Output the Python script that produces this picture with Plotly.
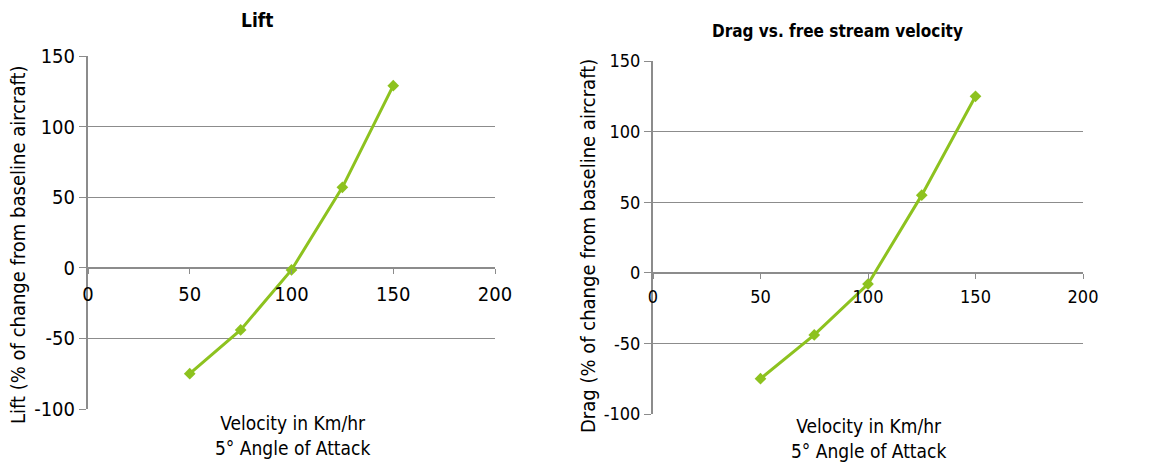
import plotly.graph_objects as go

velocity = [50, 75, 100, 125, 150]
lift_pct = [-75, -44, -1.5, 57, 129]
drag_pct = [-75, -44, -8, 55, 125]

x_ticks = [0, 50, 100, 150, 200]
x_tick_labels = ["0", "50", "100", "150", "200"]
y_ticks = [-100, -50, 0, 50, 100, 150]
y_tick_labels = ["-100", "-50", "0", "50", "100", "150"]

W, H = 1163, 463
FONT = "Liberation Sans Narrow, DejaVu Sans Condensed, Liberation Sans, sans-serif"
GREEN = "#8DC21F"
GRID = "#8C8C8C"

def px_x(p):
    return p / W

def px_y(p):
    return 1 - p / H

# plot areas (pixels)
L = dict(x0=88, x1=495, y0=56, y1=409)
R = dict(x0=653, x1=1083, y0=61, y1=414)

def ydom(a):
    return [px_y(a["y1"]), px_y(a["y0"])]

def xdom(a):
    return [px_x(a["x0"]), px_x(a["x1"])]

def zero_pos(a):
    d = ydom(a)
    return d[0] + (0 - (-100)) / 250 * (d[1] - d[0])

fig = go.Figure()
fig.add_trace(go.Scatter(x=velocity, y=lift_pct, mode="lines+markers",
                         line=dict(color=GREEN, width=3),
                         marker=dict(symbol="diamond", size=9, color=GREEN),
                         xaxis="x", yaxis="y", showlegend=False))
fig.add_trace(go.Scatter(x=velocity, y=drag_pct, mode="lines+markers",
                         line=dict(color=GREEN, width=3),
                         marker=dict(symbol="diamond", size=9, color=GREEN),
                         xaxis="x2", yaxis="y2", showlegend=False))

def xaxis_cfg(a, size):
    return dict(domain=xdom(a), range=[0, 200], tickvals=x_ticks, ticktext=x_tick_labels,
                anchor="free", position=zero_pos(a), automargin=False,
                showgrid=False, zeroline=False, showline=False,
                ticks="outside", ticklen=5, tickcolor=GRID, tickwidth=1,
                ticklabelstandoff=3,
                tickfont=dict(family=FONT, size=size, color="#000"),
                fixedrange=True)

def yaxis_cfg(a, xname, size):
    return dict(domain=ydom(a), range=[-100, 150], tickvals=y_ticks, ticktext=y_tick_labels,
                anchor=xname, automargin=False,
                showgrid=True, gridcolor=GRID, gridwidth=1,
                zeroline=True, zerolinecolor=GRID, zerolinewidth=2,
                showline=True, linecolor=GRID, linewidth=2,
                ticks="outside", ticklen=7, tickcolor=GRID, tickwidth=1,
                tickfont=dict(family=FONT, size=size, color="#000"),
                fixedrange=True)

fig.update_layout(
    width=W, height=H,
    margin=dict(l=0, r=0, t=0, b=0, autoexpand=False),
    paper_bgcolor="white", plot_bgcolor="white",
    xaxis=xaxis_cfg(L, 20),
    yaxis=yaxis_cfg(L, "x", 20),
    xaxis2=xaxis_cfg(R, 18),
    yaxis2=yaxis_cfg(R, "x2", 18),
)

ann = [
    dict(text="<b>Lift</b>", x=px_x(257), y=px_y(20), size=19),
    dict(text="<b>Drag vs. free stream velocity</b>", x=px_x(837), y=px_y(31), size=17),
    dict(text="Velocity in Km/hr<br>5° Angle of Attack", x=px_x(292), y=px_y(435), size=19),
    dict(text="Velocity in Km/hr<br>5° Angle of Attack", x=px_x(868), y=px_y(438), size=19),
]
for a in ann:
    fig.add_annotation(text=a["text"], x=a["x"], y=a["y"], xref="paper", yref="paper",
                       xanchor="center", yanchor="middle", showarrow=False,
                       font=dict(family=FONT, size=a["size"], color="#000"))

fig.add_annotation(text="Lift (% of change from baseline aircraft)", x=px_x(18), y=px_y(245),
                   xref="paper", yref="paper", textangle=-90, showarrow=False,
                   xanchor="center", yanchor="middle",
                   font=dict(family=FONT, size=20, color="#000"))
fig.add_annotation(text="Drag (% of change from baseline aircraft)", x=px_x(588), y=px_y(246),
                   xref="paper", yref="paper", textangle=-90, showarrow=False,
                   xanchor="center", yanchor="middle",
                   font=dict(family=FONT, size=20, color="#000"))

fig.write_html("out.html", config={"displayModeBar": False},
               post_script="document.body.style.margin='0';")
